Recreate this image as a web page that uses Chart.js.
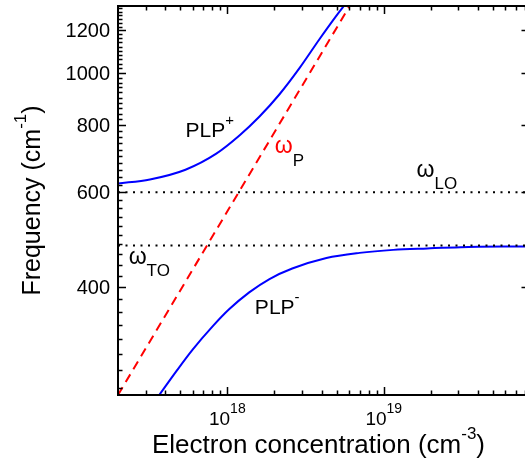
<!DOCTYPE html>
<html>
<head>
<meta charset="utf-8">
<script src="https://cdn.jsdelivr.net/npm/chart.js@4.4.1/dist/chart.umd.min.js"></script>
<style>
  html, body { margin: 0; padding: 0; background: #fff; }
  #wrap { width: 525px; height: 472px; }
</style>
</head>
<body>
<div id="wrap"><canvas id="plpChart" width="525" height="472"></canvas></div>
<script>
// values: electron concentration (cm^-3) vs frequency (cm^-1)
const plpPlusConc = [2.0e17, 3.2e17, 5.4e17, 8.5e17, 1.2e18, 1.6e18, 2.15e18, 2.9e18, 3.9e18, 5.0e18, 5.7e18];
const plpPlusFreq = [623, 634, 661, 708, 766, 829, 912, 1022, 1158, 1280, 1345];
const plpMinusConc = [3.6e17, 4.7e17, 6.0e17, 8.05e17, 1.03e18, 1.38e18, 1.86e18, 2.6e18, 4.3e18, 7.0e18, 1.15e19, 1.9e19, 3.1e19, 8.0e19];
const plpMinusFreq = [250, 278.5, 306, 338, 364, 391, 414, 433, 453, 463, 469, 472, 474.5, 476];
const plasmaConc = [2.0e17, 7.0e18];
const plasmaFreq = [252, 1430];
const omegaLO = 600;
const omegaTO = 478;
const concRange = [2e17, 8e19];
const freqRange = [252, 1332];
const freqLabels = [400, 600, 800, 1000, 1200];
const concDecades = [18, 19];

const FONT = '"Liberation Sans", Arial, sans-serif';

function toPoints(xs, ys) {
    return xs.map((v, i) => ({ x: v, y: ys[i] }));
}

// draws a run of text pieces (for super/subscripts), left to right
function drawPieces(ctx, pieces, x, y, align) {
    let total = 0;
    pieces.forEach(p => {
        ctx.font = p.font;
        p.w = ctx.measureText(p.text).width;
        total += p.w;
    });
    let cx = x;
    if (align === 'center') cx = x - total / 2;
    if (align === 'right') cx = x - total;
    pieces.forEach(p => {
        ctx.font = p.font;
        ctx.fillStyle = p.color || '#000';
        ctx.fillText(p.text, cx, y + (p.dy || 0));
        cx += p.w;
    });
}

const framePlugin = {
    id: 'framePlugin',
    afterDatasetsDraw(chart) {
        const { ctx, chartArea: a, scales } = chart;
        const xs = scales.x, ys = scales.y;
        ctx.save();
        ctx.strokeStyle = '#000';
        ctx.fillStyle = '#000';
        ctx.textBaseline = 'alphabetic';

        // frame: left, bottom, top (right side falls off the picture)
        ctx.lineWidth = 2;
        ctx.beginPath();
        ctx.moveTo(a.right + 2, a.top);
        ctx.lineTo(a.left, a.top);
        ctx.lineTo(a.left, a.bottom);
        ctx.lineTo(a.right + 2, a.bottom);
        ctx.stroke();

        // y ticks, inward
        ctx.lineWidth = 1.5;
        ctx.beginPath();
        for (let f = 260; f <= 1320; f += 20) {
            const py = Math.round(ys.getPixelForValue(f)) + 0.5;
            const major = freqLabels.includes(f);
            ctx.moveTo(a.left, py);
            ctx.lineTo(a.left + (major ? 8 : 4.5), py);
            if (major) {
                ctx.moveTo(a.right, py);
                ctx.lineTo(a.right - 3.5, py);
            }
        }
        // x ticks, inward on bottom and top
        for (let d = 17; d <= 19; d++) {
            for (let m = 1; m <= 9; m++) {
                const v = m * Math.pow(10, d);
                if (v <= concRange[0] || v > concRange[1]) continue;
                const px = Math.round(xs.getPixelForValue(v)) + 0.5;
                const len = m === 1 ? 8 : 4.5;
                ctx.moveTo(px, a.bottom);
                ctx.lineTo(px, a.bottom - len);
                ctx.moveTo(px, a.top);
                ctx.lineTo(px, a.top + len);
            }
        }
        ctx.stroke();

        // tick labels
        ctx.font = '20px ' + FONT;
        ctx.textAlign = 'right';
        freqLabels.forEach(f => {
            ctx.fillText(String(f), a.left - 8, ys.getPixelForValue(f) + 7);
        });
        ctx.textAlign = 'left';
        concDecades.forEach(d => {
            const px = xs.getPixelForValue(Math.pow(10, d));
            drawPieces(ctx, [
                { text: '10', font: '19px ' + FONT },
                { text: String(d), font: '14px ' + FONT, dy: -12 }
            ], px, a.bottom + 30, 'center');
        });

        // axis titles
        drawPieces(ctx, [
            { text: 'Electron concentration (cm', font: '26px ' + FONT },
            { text: '-3', font: '17px ' + FONT, dy: -14 },
            { text: ')', font: '26px ' + FONT }
        ], 318.5, a.bottom + 58, 'center');
        ctx.save();
        ctx.translate(39.5, (a.top + a.bottom) / 2);
        ctx.rotate(-Math.PI / 2);
        drawPieces(ctx, [
            { text: 'Frequency (cm', font: '25px ' + FONT },
            { text: '-1', font: '17px ' + FONT, dy: -14 },
            { text: ')', font: '25px ' + FONT }
        ], 0, 0, 'center');
        ctx.restore();

        // curve labels, anchored in data space
        const at = (n, f) => [xs.getPixelForValue(n), ys.getPixelForValue(f)];
        let p = at(5.41e17, 760);
        drawPieces(ctx, [
            { text: 'PLP', font: '21px ' + FONT },
            { text: '+', font: '15px ' + FONT, dy: -12 }
        ], p[0], p[1], 'left');
        p = at(1.5e18, 356);
        drawPieces(ctx, [
            { text: 'PLP', font: '21px ' + FONT },
            { text: '-', font: '15px ' + FONT, dy: -12 }
        ], p[0], p[1], 'left');
        p = at(2.01e18, 710);
        drawPieces(ctx, [
            { text: '\u03C9', font: '23px ' + FONT, color: '#ff0000' },
            { text: 'P', font: '17px ' + FONT, dy: 13 }
        ], p[0], p[1], 'left');
        p = at(1.62e19, 640);
        drawPieces(ctx, [
            { text: '\u03C9', font: '23px ' + FONT },
            { text: 'LO', font: '17px ' + FONT, dy: 12 }
        ], p[0], p[1], 'left');
        p = at(2.34e17, 442);
        drawPieces(ctx, [
            { text: '\u03C9', font: '23px ' + FONT },
            { text: 'TO', font: '17px ' + FONT, dy: 12 }
        ], p[0], p[1], 'left');

        ctx.restore();
    }
};

const ctx = document.getElementById('plpChart').getContext('2d');
const plpChart = new Chart(ctx, {
    type: 'line',
    data: {
        datasets: [
            {
                label: 'omega LO',
                data: toPoints(concRange, [omegaLO, omegaLO]),
                borderColor: '#000',
                borderWidth: 2,
                borderDash: [2, 5.5],
                pointRadius: 0
            },
            {
                label: 'omega TO',
                data: toPoints(concRange, [omegaTO, omegaTO]),
                borderColor: '#000',
                borderWidth: 2,
                borderDash: [2, 5.5],
                pointRadius: 0
            },
            {
                label: 'PLP+',
                data: toPoints(plpPlusConc, plpPlusFreq),
                borderColor: '#0000ff',
                borderWidth: 2,
                cubicInterpolationMode: 'monotone',
                pointRadius: 0
            },
            {
                label: 'PLP-',
                data: toPoints(plpMinusConc, plpMinusFreq),
                borderColor: '#0000ff',
                borderWidth: 2,
                cubicInterpolationMode: 'monotone',
                pointRadius: 0
            },
            {
                label: 'omega P',
                data: toPoints(plasmaConc, plasmaFreq),
                borderColor: '#ff0000',
                borderWidth: 2,
                borderDash: [9, 6],
                pointRadius: 0
            }
        ]
    },
    options: {
        responsive: false,
        animation: false,
        devicePixelRatio: 1,
        layout: { padding: { top: 6, left: 0, right: 0, bottom: 0 } },
        plugins: {
            legend: { display: false },
            tooltip: { enabled: false }
        },
        scales: {
            x: {
                type: 'logarithmic',
                min: concRange[0],
                max: concRange[1],
                grid: { display: false },
                border: { display: false },
                ticks: { display: false },
                afterFit: function (scale) { scale.height = 77; }
            },
            y: {
                type: 'logarithmic',
                min: freqRange[0],
                max: freqRange[1],
                grid: { display: false },
                border: { display: false },
                ticks: { display: false },
                afterFit: function (scale) { scale.width = 118; }
            }
        }
    },
    plugins: [framePlugin]
});
</script>
</body>
</html>
